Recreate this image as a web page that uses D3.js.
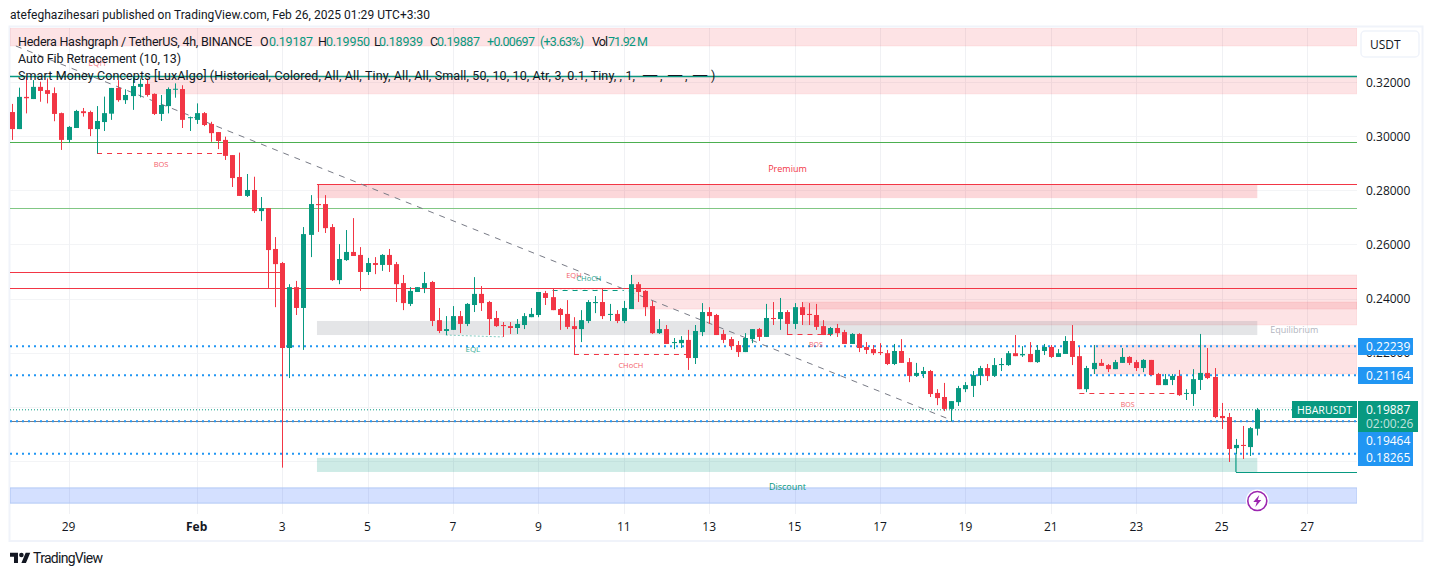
<!DOCTYPE html>
<html><head><meta charset="utf-8">
<script src="https://cdn.jsdelivr.net/npm/d3@7"></script>
<style>html,body{margin:0;padding:0;background:#fff}svg{display:block}text{font-family:"Open Sans",sans-serif}</style>
</head><body><svg id="c" width="1433" height="576"></svg>
<script>
const open=[.3089,.3026,.3145,.3137,.3182,.3170,.3159,.3085,.2986,.3030,.3092,.3089,.3026,.3052,.3083,.3178,.3133,.3148,.3182,.3193,.3156,.3082,.3111,.3173,.3174,.3068,.3060,.3085,.3045,.3015,.2986,.2930,.2849,.2779,.2801,.2723,.2734,.2583,.2531,.2217,.2442,.2365,.2635,.2749,.2749,.2664,.2468,.2542,.2572,.2561,.2498,.2531,.2524,.2561,.2527,.2457,.2380,.2424,.2439,.2461,.2320,.2280,.2284,.2335,.2306,.2376,.2417,.2387,.2328,.2302,.2298,.2291,.2302,.2331,.2339,.2420,.2405,.2361,.2343,.2298,.2287,.2317,.2383,.2387,.2340,.2343,.2317,.2361,.2453,.2428,.2372,.2272,.2287,.2237,.2235,.2247,.2180,.2276,.2350,.2339,.2269,.2250,.2228,.2202,.2250,.2287,.2258,.2328,.2324,.2350,.2306,.2368,.2343,.2339,.2298,.2269,.2291,.2276,.2232,.2269,.2221,.2213,.2202,.2198,.2158,.2206,.2165,.2114,.2121,.2132,.2051,.2036,.1992,.2017,.2065,.2077,.2114,.2143,.2114,.2154,.2154,.2198,.2190,.2195,.2165,.2206,.2221,.2184,.2195,.2243,.2187,.2065,.2139,.2162,.2154,.2139,.2162,.2184,.2165,.2143,.2173,.2121,.2080,.2099,.2114,.2048,.2047,.2099,.2125,.2110,.1966,.1962,.1847,.1859,.1851,.19187];
const high=[.3119,.3179,.3220,.3207,.3201,.3213,.3180,.3087,.3037,.3097,.3104,.3094,.3111,.3146,.3178,.3207,.3173,.3220,.3213,.3213,.3158,.3152,.3180,.3195,.3188,.3072,.3121,.3089,.3053,.3015,.2998,.2930,.2939,.2860,.2850,.2775,.2734,.2627,.2535,.2453,.2465,.2664,.2782,.2823,.2782,.2675,.2601,.2653,.2697,.2590,.2550,.2553,.2564,.2583,.2535,.2487,.2442,.2442,.2498,.2465,.2365,.2335,.2372,.2354,.2383,.2479,.2446,.2391,.2354,.2313,.2313,.2324,.2346,.2365,.2424,.2428,.2435,.2365,.2394,.2331,.2357,.2394,.2409,.2439,.2380,.2357,.2391,.2487,.2461,.2431,.2391,.2324,.2302,.2254,.2261,.2284,.2302,.2383,.2368,.2343,.2284,.2258,.2243,.2272,.2287,.2291,.2380,.2387,.2402,.2357,.2383,.2387,.2383,.2380,.2320,.2295,.2306,.2284,.2272,.2272,.2239,.2228,.2235,.2210,.2232,.2250,.2180,.2162,.2147,.2136,.2065,.2088,.2021,.2077,.2091,.2132,.2151,.2158,.2180,.2180,.2206,.2265,.2224,.2239,.2228,.2232,.2228,.2213,.2261,.2302,.2221,.2151,.2228,.2176,.2158,.2173,.2217,.2187,.2173,.2176,.2173,.2125,.2121,.2121,.2136,.2065,.2139,.2269,.2217,.2143,.2014,.1977,.1881,.1929,.1925,.19950];
const low=[.2986,.3026,.3084,.3137,.3127,.3121,.3055,.2949,.2976,.3030,.3072,.3000,.2936,.3019,.3060,.3127,.3119,.3097,.3143,.3146,.3078,.3056,.3084,.3142,.3030,.3019,.3045,.3037,.2979,.2952,.2912,.2812,.2779,.2775,.2716,.2686,.2439,.2368,.1775,.2106,.2339,.2210,.2553,.2646,.2642,.2465,.2453,.2539,.2557,.2428,.2487,.2490,.2502,.2498,.2387,.2357,.2372,.2424,.2420,.2298,.2272,.2265,.2284,.2272,.2298,.2350,.2354,.2265,.2295,.2258,.2269,.2269,.2287,.2331,.2331,.2376,.2357,.2284,.2287,.2191,.2239,.2309,.2346,.2324,.2317,.2309,.2309,.2361,.2387,.2335,.2269,.2269,.2232,.2213,.2217,.2136,.2158,.2261,.2306,.2265,.2235,.2210,.2184,.2202,.2235,.2243,.2258,.2302,.2284,.2265,.2287,.2302,.2302,.2284,.2265,.2261,.2258,.2232,.2232,.2202,.2195,.2191,.2191,.2154,.2154,.2162,.2091,.2110,.2106,.2036,.2006,.1984,.1947,.2003,.2054,.2036,.2080,.2095,.2110,.2132,.2151,.2187,.2184,.2165,.2162,.2191,.2180,.2184,.2195,.2154,.2065,.2054,.2121,.2151,.2128,.2139,.2162,.2154,.2132,.2128,.2117,.2080,.2080,.2080,.2040,.2025,.2003,.2062,.2102,.1958,.1918,.1796,.1825,.1807,.1818,.18939];
const close=[.3026,.3145,.3140,.3182,.3167,.3156,.3082,.2986,.3034,.3093,.3085,.3026,.3056,.3085,.3178,.3133,.3152,.3185,.3193,.3152,.3082,.3115,.3174,.3175,.3060,.3070,.3085,.3041,.3011,.2982,.2927,.2845,.2779,.2801,.2723,.2734,.2579,.2527,.2217,.2442,.2365,.2638,.2749,.2745,.2660,.2468,.2546,.2572,.2557,.2498,.2531,.2524,.2561,.2524,.2453,.2383,.2428,.2442,.2457,.2317,.2280,.2287,.2335,.2306,.2380,.2417,.2383,.2324,.2298,.2298,.2291,.2306,.2335,.2343,.2424,.2402,.2357,.2339,.2295,.2287,.2320,.2387,.2387,.2335,.2343,.2317,.2365,.2453,.2424,.2368,.2272,.2287,.2232,.2239,.2247,.2180,.2280,.2350,.2335,.2265,.2247,.2224,.2202,.2254,.2287,.2258,.2328,.2324,.2350,.2306,.2368,.2339,.2339,.2295,.2265,.2291,.2272,.2232,.2269,.2217,.2210,.2198,.2200,.2158,.2206,.2162,.2114,.2125,.2132,.2047,.2032,.1992,.2021,.2069,.2080,.2117,.2143,.2114,.2154,.2158,.2198,.2187,.2195,.2165,.2210,.2221,.2184,.2198,.2243,.2184,.2065,.2143,.2162,.2151,.2139,.2165,.2184,.2162,.2143,.2173,.2117,.2080,.2102,.2114,.2043,.2051,.2102,.2125,.2106,.1962,.1958,.1844,.1859,.1855,.1921,.19887];

const gridPrices=[.32,.30,.28,.26,.24,.22,.20,.18];
const priceTicks=[.32,.30,.28,.26,.24,.22];
const timeTicks=[8,26,38,50,62,74,86,98,110,122,134,146,158,170,182];
const timeLabels=["29","Feb","3","5","7","9","11","13","15","17","19","21","23","25","27"];

// price zones: [startIndex|null (pane edge), endIndex|null (pane edge), top price, bottom price]
const pinkZones=[[null,null,.3400,.3333],[19.2,null,.3222,.3156],[87.2,null,.2487,.2361],[111.2,null,.2387,.2302],[152,null,.2228,.2121]];
const swingZones=[[42.9,175,.2823,.2771,"rgba(242,54,69,.2)"],[42.9,175,.2317,.2265,"rgba(120,123,134,.2)"],[42.9,175,.1811,.1759,"rgba(8,153,129,.2)"]];
const discountZone=[.1700,.1644];

const levelLines=[[null,null,.3222,"#089981",1.4],[null,null,.2979,"#4caf50",1],[null,null,.2733,"#81c784",1],[42.9,null,.2823,"#f23645",1.2],[null,null,.2438,"#f23645",1],[null,38,.2498,"#f23645",1],[null,null,.19464,"#787b86",1.2],[172,null,.1759,"#089981",1.2]];
const stepLine=[[172,.1825],[172,.1759]];
const dottedBlue=[.22239,.21164,.19464,.18265];
const lastPrice=.19887;
const trend=[[0.6,.3333],[132.0,.1951]];
const structure=[ // start index, end index, price, colour
 [12,30,.2938,"#f23645"],[79,95,.2195,"#f23645"],[109,116,.2267,"#f23645"],[150,163.5,.2051,"#f23645"],[76,86,.2431,"#089981"]];
const eqLines=[[61,69,[.2265,.2258],"#089981"],[77,84,[.2436,.2436],"#f23645"]];
const notes=[
 [21,.2893,"BOS","#f23645",7.5,.8],[12,.3267,"EQH","#f23645",8.5,.6],[64.8,.2210,"EQL","#089981",8,.8],[79,.2483,"EQH","#f23645",7.5,.8],[81.1,.2472,"CHoCH","#089981",7.5,.9],
 [87,.2150,"CHoCH","#f23645",7.5,.8],[113,.2228,"BOS","#f23645",7,.8],[156.8,.2006,"BOS","#f23645",7,.8],
 [109,.2877,"Premium","#f23645",9,1],[180.2,.2282,"Equilibrium","#b2b5be",9,1],[109,.1700,"Discount","#089981",9,1]];

const blueLabels=["0.22239","0.21164","0.19464","0.18265"];
const blueTops=[338,367,432,449];

const svg=d3.select("#c");
const L=10,R=1357,T=27,B=514;
const x=d3.scaleLinear().domain([0,175]).range([11.6,1257.3]);
const y=d3.scaleLinear().domain([.32,.24]).range([82,298.5]);

svg.append("rect").attr("x",9.5).attr("y",26.5).attr("width",1413).attr("height",514.5).attr("fill","#fff").attr("stroke","#f0f3fa").attr("stroke-width",2);

svg.append("clipPath").attr("id","p").append("rect").attr("x",L).attr("y",T+1).attr("width",R-L).attr("height",B-T);
const pane=svg.append("g").attr("clip-path","url(#p)");

pane.append("g").selectAll("line").data(gridPrices).join("line")
 .attr("x1",L).attr("x2",R).attr("y1",d=>Math.round(y(d))+.5).attr("y2",d=>Math.round(y(d))+.5).attr("stroke","#f3f4f6");
pane.append("g").selectAll("line").data(timeTicks).join("line")
 .attr("x1",d=>Math.round(x(d))+.5).attr("x2",d=>Math.round(x(d))+.5).attr("y1",T).attr("y2",B).attr("stroke","#f0f1f4");

const edge=(v,d)=>v===null?d:x(v);
pane.append("g").selectAll("rect").data(pinkZones).join("rect")
 .attr("x",d=>edge(d[0],L)).attr("width",d=>edge(d[1],R)-edge(d[0],L)).attr("y",d=>y(d[2])).attr("height",d=>y(d[3])-y(d[2]))
 .attr("fill","rgba(242,54,69,.14)").attr("stroke","rgba(242,54,69,.08)");
pane.append("g").selectAll("rect").data(swingZones).join("rect")
 .attr("x",d=>x(d[0])).attr("width",d=>x(d[1])-x(d[0])).attr("y",d=>y(d[2])).attr("height",d=>y(d[3])-y(d[2])).attr("fill",d=>d[4]);
pane.append("rect").attr("x",L).attr("width",R-L).attr("y",y(discountZone[0])).attr("height",y(discountZone[1])-y(discountZone[0]))
 .attr("fill","rgba(41,98,255,.2)").attr("stroke","#b2c8f5");

pane.append("g").selectAll("line").data(levelLines).join("line")
 .attr("x1",d=>edge(d[0],L)).attr("x2",d=>edge(d[1],R)).attr("y1",d=>Math.round(y(d[2]))+.5).attr("y2",d=>Math.round(y(d[2]))+.5)
 .attr("stroke",d=>d[3]).attr("stroke-width",d=>d[4]);
pane.append("path").datum(stepLine).attr("fill","none").attr("stroke","#089981").attr("stroke-width",1.2)
 .attr("d",d3.line().x(d=>x(d[0])).y(d=>y(d[1])));

pane.append("g").selectAll("line").data(dottedBlue).join("line")
 .attr("x1",L).attr("x2",R).attr("y1",d=>y(d)).attr("y2",d=>y(d)).attr("stroke","#2196f3").attr("stroke-width",2).attr("stroke-dasharray","2 4");
pane.append("line").attr("x1",L).attr("x2",1292).attr("y1",y(lastPrice)).attr("y2",y(lastPrice)).attr("stroke","#089981").attr("stroke-dasharray","1 2");

pane.append("path").datum(trend).attr("fill","none").attr("stroke","#787b86").attr("stroke-dasharray","6 6")
 .attr("d",d3.line().x(d=>x(d[0])).y(d=>y(d[1])));

pane.append("g").selectAll("line").data(structure).join("line")
 .attr("x1",d=>x(d[0])).attr("x2",d=>x(d[1])).attr("y1",d=>Math.round(y(d[2]))+.5).attr("y2",d=>Math.round(y(d[2]))+.5)
 .attr("stroke",d=>d[3]).attr("stroke-width",1).attr("stroke-dasharray","5 5");
pane.append("g").selectAll("line").data(eqLines).join("line")
 .attr("x1",d=>x(d[0])).attr("x2",d=>x(d[1])).attr("y1",d=>y(d[2][0])).attr("y2",d=>y(d[2][1]))
 .attr("stroke",d=>d[3]).attr("stroke-opacity",.5).attr("stroke-dasharray","2 2");

const idx=d3.range(open.length);
const col=i=>close[i]>=open[i]?"#089981":"#f23645";
const cx=i=>Math.round(x(i));
pane.append("g").selectAll("line").data(idx).join("line")
 .attr("x1",i=>cx(i)+.5).attr("x2",i=>cx(i)+.5).attr("y1",i=>y(high[i])).attr("y2",i=>y(low[i])).attr("stroke",col);
pane.append("g").selectAll("rect").data(idx).join("rect")
 .attr("x",i=>cx(i)-2).attr("width",5)
 .attr("y",i=>y(Math.max(open[i],close[i]))).attr("height",i=>Math.max(1,Math.abs(y(open[i])-y(close[i])))).attr("fill",col);

pane.append("g").selectAll("text").data(notes).join("text")
 .attr("x",d=>x(d[0])).attr("y",d=>y(d[1])).attr("text-anchor","middle").attr("dominant-baseline","middle")
 .attr("fill",d=>d[3]).attr("font-size",d=>d[4]).attr("opacity",d=>d[5]).text(d=>d[2]);

const icon=svg.append("g").attr("transform",`translate(${x(175)},501)`);
icon.append("circle").attr("r",11.5).attr("fill","#fff");
icon.append("circle").attr("r",9.5).attr("fill","#fff").attr("stroke","#9c27b0").attr("stroke-width",1.6);
icon.append("path").attr("d","M2 -6 L-4 1 H-0.5 L-2 6 L4 -1 H0.5 Z").attr("fill","#9c27b0");

const ax=svg.append("g").attr("transform","translate(-0.5,522)").call(d3.axisBottom(x).tickValues(timeTicks).tickSize(0).tickPadding(0).tickFormat((d,i)=>timeLabels[i]));
ax.select(".domain").remove();
ax.selectAll("text").attr("font-size",12).attr("fill","#131722").attr("font-family",'"Open Sans",sans-serif').attr("font-weight",(d,i)=>timeLabels[i]==="Feb"?700:400);
const ay=svg.append("g").attr("transform","translate(1366,0.4)").call(d3.axisRight(y).tickValues(priceTicks).tickSize(0).tickPadding(0).tickFormat(d3.format(".5f")));
ay.select(".domain").remove();
ay.selectAll("text").attr("font-size",12).attr("fill","#131722").attr("font-family",'"Open Sans",sans-serif');

svg.append("rect").attr("x",1361).attr("y",31).attr("width",58).attr("height",26).attr("rx",4).attr("fill","#fff").attr("stroke","#f0f3fa").attr("stroke-width",1.5);
svg.append("text").attr("x",1370).attr("y",49).attr("font-size",12).attr("fill","#131722").text("USDT");

const lab=svg.append("g");
lab.selectAll("rect").data(blueTops).join("rect").attr("x",1358).attr("width",55).attr("height",17).attr("y",d=>d).attr("fill","#2196f3");
lab.selectAll("text").data(blueLabels).join("text").attr("x",1366).attr("font-size",12).attr("font-weight",500).attr("fill","#fff")
 .attr("y",(d,i)=>blueTops[i]+13).text(d=>d);
svg.append("rect").attr("x",1358).attr("y",401).attr("width",60).attr("height",31).attr("fill","#089981");
svg.append("rect").attr("x",1292).attr("y",401).attr("width",65).attr("height",17).attr("fill","#089981");
svg.append("text").attr("x",1297).attr("y",414).attr("font-size",11).attr("textLength",55).attr("lengthAdjust","spacingAndGlyphs").attr("fill","#fff").text("HBARUSDT");
svg.append("text").attr("x",1366).attr("y",414).attr("font-size",12).attr("fill","#fff").text("0.19887");
svg.append("text").attr("x",1366).attr("y",428).attr("font-size",12).attr("fill","#fff").attr("fill-opacity",.75).text("02:00:26");

const rb='Roboto,sans-serif', ink="#131722", up="#089981";
const put=(g,xp,yp,t,len,c)=>{const e=g.append("text").attr("x",xp).attr("y",yp).attr("fill",c||ink).style("font-family",rb).text(t);if(len)e.attr("textLength",len);return e;};
put(svg,10,19,"atefeghazihesari published on TradingView.com, Feb 26, 2025 01:29 UTC+3:30",420).attr("font-size",12);
const leg=svg.append("g").attr("font-size",12.5);
put(leg,18,46,"Hedera Hashgraph / TetherUS, 4h, BINANCE",234);
const seg=[[260,"O",0,null],[269,"0.19187",44,up],[318,"H",0,null],[326,"0.19950",44,up],[374,"L",0,null],[379,"0.18939",44,up],[430,"C",0,null],[437,"0.19887",43,up],[487,"+0.00697",48,up],[540,"(+3.63%)",44,up],[592,"Vol",16,null],[608,"71.92 M",40,up]];
seg.forEach(s=>put(leg,s[0],46,s[1],s[2],s[3]));
put(leg,18,63,"Auto Fib Retracement (10, 13)",163);
put(leg,18,80,"Smart Money Concepts [LuxAlgo] (Historical, Colored, All, All, Tiny, All, All, Small, 50, 10, 10, Atr, 3, 0.1, Tiny, , 1,",617);
[[642,"——",16],[660,",",0],[667,"——",16],[685,",",0],[692,"——",16],[711,")",0]].forEach(s=>put(leg,s[0],80,s[1],s[2]));

const logo=svg.append("g").attr("transform","translate(10,550.4) scale(.57)").attr("fill",ink);
logo.append("path").attr("d","M14 22H7V11H0V4h14v18zM28 22h-8l7.5-18h8L28 22z");
logo.append("circle").attr("cx",20).attr("cy",8).attr("r",4);
put(svg,33,563,"TradingView",70).attr("font-size",14);
</script></body></html>
